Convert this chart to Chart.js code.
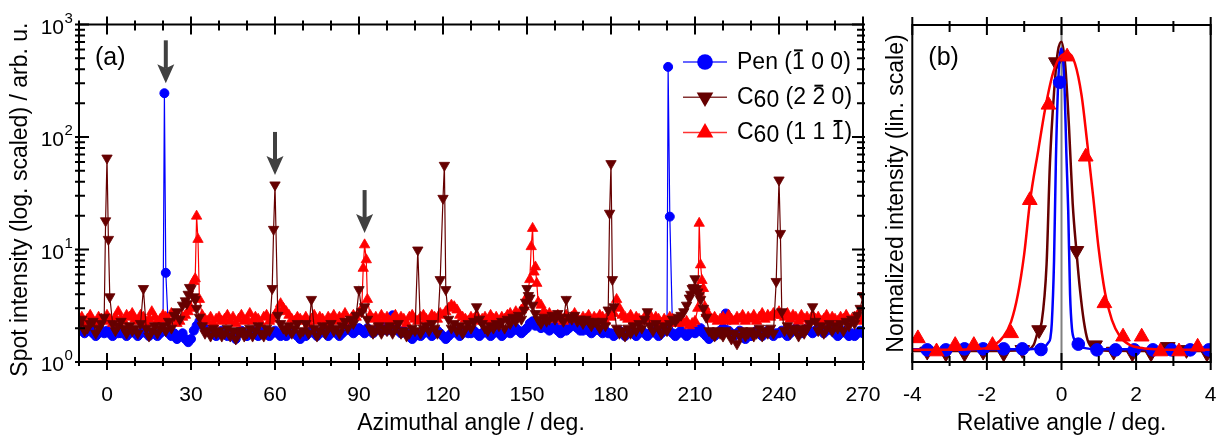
<!DOCTYPE html>
<html>
<head>
<meta charset="utf-8">
<script src="https://cdn.jsdelivr.net/npm/chart.js@4.4.1/dist/chart.umd.min.js"></script>
<style>
  html, body { margin: 0; padding: 0; background: #fff; }
  #wrap { position: relative; width: 1222px; height: 435px; overflow: hidden; }
  canvas { position: absolute; top: 0; }
  #scan { left: 0; }
  #zoom { left: 875px; }
</style>
</head>
<body>
<div id="wrap">
  <canvas id="scan" width="882" height="435"></canvas>
  <canvas id="zoom" width="347" height="435"></canvas>
</div>
<script>
const FONT = '"Liberation Sans", Arial, sans-serif';
const BLUE = '#0000ff';
const MAROON = '#660000';
const RED = '#ff0000';

// ---- panel (a): one reading per degree from START_ANGLE, extra readings on the peaks ----
const START_ANGLE = -10;

const penScan = [
  2.0, 1.9, 1.8, 1.9, 2.0, 1.8, 1.7, 1.8, 1.9, 1.8,
  1.9, 1.8, 1.7, 1.9, 1.8, 1.8, 1.9, 1.7, 1.8, 1.9,
  1.8, 1.7, 1.8, 1.9, 1.8, 1.7, 1.8, 1.8, 1.7, 1.8,
  1.9, 6.2, 1.8, 1.7, 1.8, 1.6, 1.7, 1.8, 1.6, 1.5,
  1.6, 1.9, 2.1, 2.3, 2.2, 2.0, 1.9, 1.8, 1.8, 1.7,
  1.8, 1.9, 1.8, 1.7, 1.8, 1.7, 1.6, 1.8, 1.9, 1.8,
  1.7, 1.8, 1.9, 1.8, 1.7, 1.8, 1.9, 1.8, 1.7, 1.8,
  1.9, 1.8, 1.7, 1.8, 1.7, 1.8, 1.9, 1.8, 1.7, 1.6,
  1.8, 1.7, 1.8, 1.9, 1.8, 1.7, 1.8, 1.9, 1.8, 1.7,
  1.8, 1.9, 1.8, 1.7, 1.8, 1.9, 2.0, 1.9, 1.8, 1.9,
  2.0, 1.9, 1.8, 2.0, 1.9, 1.8, 1.9, 2.0, 2.1, 2.0,
  1.9, 2.0, 2.6, 2.1, 1.9, 1.8, 1.9, 1.8, 1.7, 1.6,
  1.7, 1.8, 1.7, 1.8, 1.9, 1.8, 1.7, 1.8, 1.9, 1.8,
  1.7, 1.6, 1.7, 1.8, 1.9, 1.8, 1.7, 1.8, 1.9, 1.8,
  1.8, 1.9, 1.8, 1.7, 1.8, 1.9, 1.8, 1.7, 1.8, 1.9,
  1.8, 1.7, 1.8, 1.9, 1.8, 1.9, 2.0, 1.9, 1.8, 1.9,
  2.0, 2.2, 2.3, 2.1, 2.2, 2.0, 2.1, 2.0, 1.9, 2.0,
  2.1, 1.9, 1.8, 2.0, 1.9, 2.0, 2.1, 2.2, 2.0, 1.9,
  1.9, 2.0, 1.9, 1.8, 1.9, 2.0, 1.9, 1.8, 1.9, 1.8,
  1.8, 1.7, 1.8, 1.9, 1.8, 1.7, 1.8, 1.9, 1.8, 1.7,
  1.8, 1.9, 1.8, 1.7, 1.8, 1.9, 1.8, 1.7, 1.8, 1.9,
  1.9, 19.6, 1.8, 1.7, 1.8, 1.9, 1.8, 1.7, 1.8, 1.9,
  1.8, 1.9, 2.0, 1.8, 1.7, 1.6, 1.8, 1.7, 1.8, 1.9,
  2.0, 2.7, 1.9, 1.8, 1.7, 1.8, 1.9, 1.7, 1.6, 1.8,
  1.7, 1.8, 1.9, 1.8, 1.7, 1.8, 1.9, 1.8, 1.7, 1.8,
  1.8, 1.9, 1.8, 1.7, 1.8, 1.9, 2.0, 1.9, 1.8, 1.9,
  2.0, 1.9, 1.8, 1.9, 2.0, 1.9, 1.8, 1.9, 2.0, 1.9,
  1.8, 1.7, 1.8, 1.9, 1.8, 1.7, 1.8, 1.7, 1.8, 1.9,
  1.8
];
const penPeaks = [[20.5, 245], [200.4, 420]];

// C60 (2 -2 0)
const c60aScan = [
  2.1, 2.4, 1.9, 2.0, 2.2, 2.3, 1.8, 2.0, 2.2, 2.5,
  65, 3.8, 2.2, 1.9, 2.1, 2.3, 2.0, 1.8, 2.1, 1.9,
  2.0, 1.8, 2.2, 4.5, 2.0, 1.7, 1.9, 2.1, 1.8, 2.0,
  2.1, 1.9, 2.3, 2.0, 2.6, 2.8, 2.4, 3.2, 3.5, 4.0,
  4.5, 3.8, 3.0, 2.5, 2.1, 1.8, 1.9, 1.7, 2.0, 1.8,
  1.9, 1.7, 1.8, 2.0, 1.7, 1.9, 1.6, 1.8, 1.9, 1.7,
  1.8, 2.0, 1.7, 1.9, 2.1, 1.8, 1.7, 2.0, 1.9, 4.5,
  37.5, 2.6, 2.2, 2.0, 1.9, 2.1, 1.8, 2.0, 2.2, 1.8,
  1.9, 2.2, 1.8, 3.6, 2.0, 1.7, 1.9, 2.1, 1.8, 2.0,
  2.2, 1.9, 2.0, 1.8, 2.1, 2.3, 2.0, 2.4, 2.2, 2.6,
  4.4, 2.8, 3.1, 2.4, 2.0, 1.8, 1.9, 2.1, 1.8, 2.0,
  1.9, 2.1, 1.8, 2.0, 2.2, 1.8, 1.9, 1.7, 1.8, 2.0,
  1.9, 9.9, 1.8, 2.0, 2.1, 1.9, 2.2, 2.0, 1.8, 5.4,
  28.5, 4.4, 2.4, 2.0, 2.2, 1.9, 2.1, 1.8, 2.0, 2.2,
  2.0, 2.3, 3.1, 2.4, 2.2, 2.0, 1.9, 2.1, 2.0, 2.2,
  2.1, 2.3, 2.0, 2.4, 2.2, 2.5, 2.3, 2.6, 2.4, 2.9,
  4.5, 3.7, 3.2, 2.7, 2.4, 2.2, 2.5, 2.3, 2.4, 2.6,
  2.4, 2.7, 2.5, 2.3, 3.6, 2.5, 2.4, 2.6, 2.3, 2.4,
  2.2, 2.4, 2.3, 2.1, 2.3, 2.2, 2.0, 2.3, 2.1, 2.9,
  58, 3.1, 2.0, 1.8, 1.9, 1.7, 2.0, 1.8, 2.1, 1.9,
  2.2, 2.0, 2.4, 2.8, 2.1, 1.9, 2.2, 2.0, 1.8, 2.1,
  1.9, 2.2, 2.4, 2.3, 2.5, 2.6, 2.8, 3.2, 3.7, 4.5,
  5.5, 4.2, 3.6, 3.0, 2.5, 1.9, 1.8, 1.7, 1.9, 1.8,
  1.7, 1.9, 1.8, 1.6, 1.8, 1.45, 1.7, 1.9, 1.7, 1.8,
  1.9, 1.7, 1.8, 2.0, 1.7, 1.9, 1.8, 2.0, 1.8, 5.2,
  41.5, 2.8, 1.9, 2.1, 1.8, 2.0, 1.9, 1.7, 2.0, 1.8,
  2.0, 2.2, 3.1, 2.3, 1.9, 2.1, 1.8, 2.0, 2.2, 1.9,
  2.1, 2.0, 2.2, 1.9, 2.3, 2.1, 2.4, 2.2, 2.6, 3.0,
  3.9
];
const c60aPeaks = [
  [-0.5, 18], [0.5, 12.3], [28.5, 3.3], [29.5, 4.6], [31.5, 3.6], [59.5, 15.1],
  [120.5, 56], [149.5, 3.4], [150.5, 3.9], [179.5, 21], [180.5, 5.4],
  [208.5, 4.0], [209.5, 4.6], [210.5, 4.5], [211.5, 3.9], [240.5, 13.9]
];

// C60 (1 1 -1)
const c60bScan = [
  2.3, 2.5, 2.2, 2.4, 2.6, 2.3, 2.2, 2.5, 2.4, 2.3,
  2.6, 2.4, 2.2, 2.5, 2.8, 2.4, 2.3, 2.6, 2.5, 2.7,
  2.4, 2.3, 2.6, 2.5, 2.2, 2.4, 2.8, 2.5, 2.3, 2.4,
  2.6, 2.5, 2.3, 2.7, 2.4, 2.2, 2.3, 2.5, 2.6, 2.8,
  3.0, 5.2, 19.8, 3.6, 2.6, 2.4, 2.3, 2.5, 2.2, 2.4,
  2.5, 2.3, 2.4, 2.6, 2.3, 2.5, 2.2, 2.4, 2.6, 2.3,
  2.4, 2.7, 2.3, 2.5, 2.4, 2.2, 2.5, 2.6, 2.3, 2.4,
  2.6, 2.9, 3.3, 3.0, 2.8, 2.6, 2.4, 2.3, 2.5, 2.4,
  2.3, 2.5, 2.2, 2.4, 2.6, 2.3, 2.5, 2.4, 2.2, 2.5,
  2.4, 2.6, 2.3, 2.5, 2.4, 2.7, 2.3, 2.4, 2.6, 2.5,
  2.7, 3.0, 11.0, 3.6, 2.6, 2.4, 2.5, 2.3, 2.6, 2.4,
  2.5, 2.3, 2.4, 2.6, 2.3, 2.5, 2.4, 2.2, 2.5, 2.6,
  2.4, 2.3, 2.5, 2.6, 2.4, 2.3, 2.6, 2.5, 2.4, 2.7,
  2.6, 2.8, 3.0, 3.2, 3.1, 2.9, 2.6, 2.5, 2.4, 2.3,
  2.5, 2.4, 2.6, 2.3, 2.4, 2.5, 2.3, 2.6, 2.4, 2.5,
  2.3, 2.5, 2.4, 2.6, 2.7, 2.5, 2.8, 2.6, 2.9, 3.1,
  3.8, 5.4, 15.4, 7.0, 3.4, 3.2, 2.8, 2.6, 2.7, 2.5,
  2.4, 2.6, 2.5, 2.3, 2.6, 2.4, 2.5, 2.7, 2.4, 2.3,
  2.5, 2.4, 2.6, 2.3, 2.5, 2.4, 2.6, 2.5, 2.3, 2.6,
  2.5, 2.7, 3.6, 3.0, 2.6, 2.5, 2.4, 2.6, 2.3, 2.5,
  2.4, 2.3, 2.5, 2.4, 2.6, 2.3, 2.5, 2.4, 2.2, 2.4,
  2.3, 2.5, 2.4, 2.2, 2.3, 2.4, 2.2, 2.3, 2.1, 2.2,
  2.3, 3.0, 7.3, 4.5, 2.7, 2.6, 2.4, 2.5, 2.3, 2.4,
  2.5, 2.3, 2.6, 2.4, 2.3, 2.5, 2.4, 2.6, 2.3, 2.5,
  2.4, 2.6, 2.3, 2.5, 2.7, 2.4, 2.6, 2.5, 2.7, 2.6,
  2.8, 2.6, 2.5, 2.7, 2.4, 2.6, 2.5, 2.3, 2.6, 2.4,
  2.5, 2.3, 2.6, 2.4, 2.5, 2.3, 2.4, 2.6, 2.3, 2.5,
  2.4, 2.3, 2.5, 2.4, 2.6, 2.3, 2.4, 2.5, 2.6, 2.4,
  2.3
];
const c60bPeaks = [
  [31.5, 5.5], [32.5, 12.3], [91.5, 6.8], [92.6, 8.1],
  [151.5, 10.6], [152.5, 6.3], [153.5, 5.0],
  [211.5, 17.1], [212.5, 5.3], [213.5, 3.1]
];

const angleTicks = [0, 30, 60, 90, 120, 150, 180, 210, 240, 270];
const decadeTicks = [1, 10, 100, 1000];
// arrows: [angle, intensity at the arrow tip]
const arrowMarks = [[21, 300], [60, 46], [92, 14]];

// ---- panel (b): normalized peaks around the maximum ----
const relTicks = [-4, -2, 0, 2, 4];

const penRelX = [-3.6, -3.1, -2.6, -2.1, -1.55, -1.05, -0.55, -0.05, 0.45, 0.95, 1.45, 1.95, 2.45, 2.95, 3.45, 3.95];
const penRelY = [0.036, 0.036, 0.039, 0.039, 0.039, 0.039, 0.037, 0.83, 0.053, 0.036, 0.036, 0.036, 0.036, 0.036, 0.036, 0.036];
const penFitX = [-4, -1, -0.6, -0.45, -0.35, -0.3, -0.26, -0.2, -0.15, -0.08, 0, 0.08, 0.13, 0.18, 0.23, 0.28, 0.35, 0.45, 0.6, 1, 4];
const penFitY = [0.038, 0.038, 0.04, 0.045, 0.058, 0.07, 0.115, 0.3, 0.6, 0.85, 0.93, 0.82, 0.62, 0.45, 0.2, 0.1, 0.065, 0.05, 0.042, 0.038, 0.038];

const c60aRelX = [-3.6, -3.1, -2.6, -2.1, -1.55, -1.05, -0.6, -0.15, 0.4, 0.9, 1.4, 1.9, 2.4, 2.85, 3.35, 3.9];
const c60aRelY = [0.031, 0.026, 0.026, 0.031, 0.026, 0.036, 0.095, 0.89, 0.33, 0.05, 0.031, 0.026, 0.026, 0.045, 0.036, 0.026];
const c60aFitX = [-4, -2, -1, -0.75, -0.62, -0.53, -0.4, -0.31, -0.2, -0.1, 0, 0.1, 0.2, 0.3, 0.4, 0.5, 0.6, 0.7, 0.85, 1.1, 2, 4];
const c60aFitY = [0.033, 0.033, 0.035, 0.05, 0.095, 0.12, 0.29, 0.59, 0.8, 0.92, 0.95, 0.88, 0.7, 0.47, 0.33, 0.21, 0.12, 0.065, 0.04, 0.034, 0.033, 0.033];

const c60bRelX = [-3.85, -3.35, -2.85, -2.35, -1.85, -1.35, -0.85, -0.35, 0.15, 0.65, 1.15, 1.65, 2.15, 2.65, 3.15, 3.65];
const c60bRelY = [0.07, 0.031, 0.05, 0.05, 0.05, 0.085, 0.48, 0.763, 0.906, 0.609, 0.174, 0.075, 0.075, 0.031, 0.031, 0.045];
const c60bFitX = [-4, -3, -2.4, -2, -1.8, -1.56, -1.35, -1.17, -1, -0.84, -0.62, -0.44, -0.22, 0, 0.18, 0.36, 0.54, 0.68, 0.85, 0.99, 1.17, 1.35, 1.57, 1.84, 2.1, 2.5, 3, 4];
const c60bFitY = [0.036, 0.036, 0.038, 0.042, 0.05, 0.075, 0.12, 0.2, 0.32, 0.48, 0.63, 0.75, 0.86, 0.91, 0.916, 0.886, 0.79, 0.66, 0.49, 0.342, 0.204, 0.125, 0.075, 0.05, 0.042, 0.038, 0.036, 0.036];

const legendRows = [
    { parts: [{ t: 'Pen (' }, { t: '1', bar: true }, { t: ' 0 0)' }], color: BLUE, shape: 'circle' },
    { parts: [{ t: 'C' }, { t: '60', sub: true }, { t: ' (2 ' }, { t: '2', bar: true }, { t: ' 0)' }], color: MAROON, shape: 'down' },
    { parts: [{ t: 'C' }, { t: '60', sub: true }, { t: ' (1 1 ' }, { t: '1', bar: true }, { t: ')' }], color: RED, shape: 'up' },
];

Chart.defaults.font.family = FONT;
Chart.defaults.color = '#000';
Chart.defaults.animation = false;

function scanPoints(values, extras) {
    const pts = values.map((y, i) => ({ x: START_ANGLE + i, y }));
    extras.forEach(([x, y]) => pts.push({ x, y }));
    return pts.sort((a, b) => a.x - b.x);
}

function pairPoints(xs, ys) {
    return xs.map((x, i) => ({ x, y: ys[i] }));
}

function marker(ctx, shape, x, y, r) {
    ctx.beginPath();
    if (shape === 'circle') {
        ctx.arc(x, y, r, 0, Math.PI * 2);
    } else {
        const s = shape === 'up' ? -1 : 1;
        ctx.moveTo(x, y + s * r);
        ctx.lineTo(x - r * 0.866, y - s * r / 2);
        ctx.lineTo(x + r * 0.866, y - s * r / 2);
        ctx.closePath();
    }
    ctx.fill();
}

function drawFrame(ctx, a) {
    ctx.save();
    ctx.strokeStyle = '#000';
    ctx.lineWidth = 2;
    ctx.strokeRect(a.left, a.top, a.right - a.left, a.bottom - a.top);
    ctx.restore();
}

function vTick(ctx, x, y, up, down) {
    ctx.moveTo(x, y - up);
    ctx.lineTo(x, y + down);
}

function hTick(ctx, x, y, left, right) {
    ctx.moveTo(x - left, y);
    ctx.lineTo(x + right, y);
}

function richText(ctx, x, y, parts, size) {
    ctx.font = `${size}px ${FONT}`;
    parts.forEach((p) => {
        const w = ctx.measureText(p.t).width;
        ctx.fillText(p.t, x, y + (p.sub ? 3 : 0));
        if (p.bar) ctx.fillRect(x + 2, y - size * 0.84, w - 4, 2);
        x += w;
    });
}

// keep the plot frame where the reference has it: no automatic label padding
function fixX(s) {
    s.height = 73;
    s.paddingLeft = 0;
    s.paddingRight = 0;
}

function fixY(width) {
    return (s) => {
        s.width = width;
        s.paddingTop = 0;
        s.paddingBottom = 0;
    };
}

const scanDecor = {
    id: 'scanDecor',
    afterDraw(chart) {
        const { ctx, chartArea: a, scales: { x, y } } = chart;
        drawFrame(ctx, a);

        ctx.save();
        ctx.strokeStyle = '#000';
        ctx.lineWidth = 2;
        ctx.beginPath();
        for (let v = -10; v <= 270; v += 10) {
            const px = x.getPixelForValue(v);
            const major = v % 30 === 0;
            vTick(ctx, px, a.bottom, major ? 9 : 5, major ? 8 : 4);
            vTick(ctx, px, a.top, major ? 8 : 4, major ? 10 : 6);
        }
        decadeTicks.forEach((d) => {
            const steps = d === 1000 ? 1 : 9;
            for (let k = 1; k <= steps; k++) {
                const py = y.getPixelForValue(d * k);
                const major = k === 1;
                hTick(ctx, a.left, py, 4, major ? 10 : 6);
                hTick(ctx, a.right, py, major ? 11 : 6, 2);
            }
        });
        ctx.stroke();

        // decade labels 10^n
        ctx.fillStyle = '#000';
        ctx.textBaseline = 'alphabetic';
        decadeTicks.forEach((d) => {
            const py = y.getPixelForValue(d);
            ctx.font = `21px ${FONT}`;
            ctx.textAlign = 'right';
            ctx.fillText('10', a.left - 15, py + 9);
            ctx.font = `15px ${FONT}`;
            ctx.textAlign = 'left';
            ctx.fillText(String(Math.round(Math.log10(d))), a.left - 14.5, py - 2);
        });

        // arrows
        ctx.fillStyle = '#404040';
        arrowMarks.forEach(([ang, val]) => {
            const px = x.getPixelForValue(ang);
            const tip = y.getPixelForValue(val);
            ctx.fillRect(px - 2, tip - 43, 4, 28);
            ctx.beginPath();
            ctx.moveTo(px, tip);
            ctx.lineTo(px - 8.5, tip - 19);
            ctx.lineTo(px, tip - 15);
            ctx.lineTo(px + 8.5, tip - 19);
            ctx.closePath();
            ctx.fill();
        });

        // panel label
        ctx.fillStyle = '#000';
        ctx.font = `25px ${FONT}`;
        ctx.textAlign = 'left';
        ctx.fillText('(a)', a.left + 16, 65);

        // legend
        legendRows.forEach((row, i) => {
            const cy = 62 + i * 35.3;
            ctx.strokeStyle = row.color;
            ctx.globalAlpha = 0.8;
            ctx.lineWidth = 1.5;
            ctx.beginPath();
            ctx.moveTo(683, cy);
            ctx.lineTo(727, cy);
            ctx.stroke();
            ctx.globalAlpha = 1;
            ctx.fillStyle = row.color;
            marker(ctx, row.shape, 705, cy, row.shape === 'circle' ? 7.8 : 9.6);
            ctx.fillStyle = '#000';
            richText(ctx, 737, cy + 6.7, row.parts, 23);
        });
        ctx.restore();
    },
};

const zoomDecor = {
    id: 'zoomDecor',
    beforeDatasetsDraw(chart) {
        const { ctx, chartArea: a, scales: { x } } = chart;
        const px = x.getPixelForValue(0);
        ctx.save();
        ctx.strokeStyle = '#808080';
        ctx.lineWidth = 2;
        ctx.beginPath();
        ctx.moveTo(px, a.top);
        ctx.lineTo(px, a.bottom);
        ctx.stroke();
        ctx.restore();
    },
    afterDraw(chart) {
        const { ctx, chartArea: a, scales: { x } } = chart;
        drawFrame(ctx, a);
        ctx.save();
        ctx.strokeStyle = '#000';
        ctx.lineWidth = 2;
        ctx.beginPath();
        for (let v = -4; v <= 4; v++) {
            const px = x.getPixelForValue(v);
            const major = v % 2 === 0;
            vTick(ctx, px, a.bottom, major ? 9 : 6, major ? 8 : 4);
            vTick(ctx, px, a.top, major ? 8 : 4, major ? 10 : 7);
        }
        ctx.stroke();
        ctx.fillStyle = '#000';
        ctx.font = `25px ${FONT}`;
        ctx.textAlign = 'left';
        ctx.textBaseline = 'alphabetic';
        ctx.fillText('(b)', a.left + 16, 65);
        ctx.restore();
    },
};

const titleFont = { size: 23, lineHeight: 1 };
const tickFont = { size: 21 };

new Chart(document.getElementById('scan'), {
    type: 'line',
    data: {
        datasets: [
            {
                label: 'C60 (2 -2 0)',
                data: scanPoints(c60aScan, c60aPeaks),
                borderColor: MAROON,
                backgroundColor: MAROON,
                borderWidth: 1.2,
                pointStyle: 'triangle',
                pointRotation: 180,
                pointRadius: 6,
                pointBorderWidth: 0.8,
            },
            {
                label: 'C60 (1 1 -1)',
                data: scanPoints(c60bScan, c60bPeaks),
                borderColor: RED,
                backgroundColor: RED,
                borderWidth: 1.2,
                pointStyle: 'triangle',
                pointRadius: 6,
                pointBorderWidth: 0.8,
            },
            {
                label: 'Pen (-1 0 0)',
                data: scanPoints(penScan, penPeaks),
                borderColor: BLUE,
                backgroundColor: BLUE,
                borderWidth: 1.2,
                pointStyle: 'circle',
                pointRadius: 4.5,
                pointBorderWidth: 1,
            },
        ],
    },
    options: {
        responsive: false,
        animation: false,
        layout: { padding: { top: 24.5, right: 19, left: 0, bottom: 0 } },
        plugins: { legend: { display: false }, tooltip: { enabled: false } },
        scales: {
            x: {
                type: 'linear',
                min: -10,
                max: 270,
                grid: { display: false },
                border: { display: false },
                afterBuildTicks: (s) => { s.ticks = angleTicks.map((v) => ({ value: v })); },
                afterFit: fixX,
                ticks: { font: tickFont, padding: 13, maxRotation: 0, autoSkip: false },
                title: { display: true, text: 'Azimuthal angle / deg.', font: titleFont, padding: { top: 0, bottom: 0 } },
            },
            y: {
                type: 'logarithmic',
                min: 1,
                max: 1000,
                grid: { display: false },
                border: { display: false },
                ticks: { display: false },
                afterFit: fixY(79),
                title: { display: true, text: 'Spot intensity (log. scaled) / arb. u.  ', font: titleFont, padding: { top: 9, bottom: 0 } },
            },
        },
    },
    plugins: [scanDecor],
});

new Chart(document.getElementById('zoom'), {
    type: 'line',
    data: {
        datasets: [
            {
                label: 'C60 (1 1 -1)',
                data: pairPoints(c60bRelX, c60bRelY),
                showLine: false,
                backgroundColor: RED,
                borderColor: RED,
                pointStyle: 'triangle',
                pointRadius: 8.5,
                pointBorderWidth: 1,
            },
            {
                label: 'C60 (1 1 -1) fit',
                data: pairPoints(c60bFitX, c60bFitY),
                borderColor: RED,
                borderWidth: 2.5,
                pointRadius: 0,
                cubicInterpolationMode: 'monotone',
            },
            {
                label: 'Pen (-1 0 0)',
                data: pairPoints(penRelX, penRelY),
                showLine: false,
                backgroundColor: BLUE,
                borderColor: BLUE,
                pointStyle: 'circle',
                pointRadius: 6.3,
                pointBorderWidth: 1,
            },
            {
                label: 'Pen (-1 0 0) fit',
                data: pairPoints(penFitX, penFitY),
                borderColor: BLUE,
                borderWidth: 2.5,
                pointRadius: 0,
                cubicInterpolationMode: 'monotone',
            },
            {
                label: 'C60 (2 -2 0)',
                data: pairPoints(c60aRelX, c60aRelY),
                showLine: false,
                backgroundColor: MAROON,
                borderColor: MAROON,
                pointStyle: 'triangle',
                pointRotation: 180,
                pointRadius: 8.5,
                pointBorderWidth: 1,
            },
            {
                label: 'C60 (2 -2 0) fit',
                data: pairPoints(c60aFitX, c60aFitY),
                borderColor: MAROON,
                borderWidth: 2.5,
                pointRadius: 0,
                cubicInterpolationMode: 'monotone',
            },
        ],
    },
    options: {
        responsive: false,
        animation: false,
        layout: { padding: { top: 25, right: 11.3, left: 0, bottom: 0 } },
        plugins: { legend: { display: false }, tooltip: { enabled: false } },
        scales: {
            x: {
                type: 'linear',
                min: -4,
                max: 4,
                grid: { display: false },
                border: { display: false },
                afterBuildTicks: (s) => { s.ticks = relTicks.map((v) => ({ value: v })); },
                afterFit: fixX,
                ticks: { font: tickFont, padding: 13, maxRotation: 0, autoSkip: false },
                title: { display: true, text: 'Relative angle / deg.', font: titleFont, padding: { top: 0, bottom: 0 } },
            },
            y: {
                type: 'linear',
                min: 0,
                max: 1,
                grid: { display: false },
                border: { display: false },
                ticks: { display: false },
                afterFit: fixY(37.3),
                title: { display: true, text: 'Normalized intensity (lin. scale)', font: titleFont, padding: { top: 10, bottom: 0 } },
            },
        },
    },
    plugins: [zoomDecor],
});
</script>
</body>
</html>
